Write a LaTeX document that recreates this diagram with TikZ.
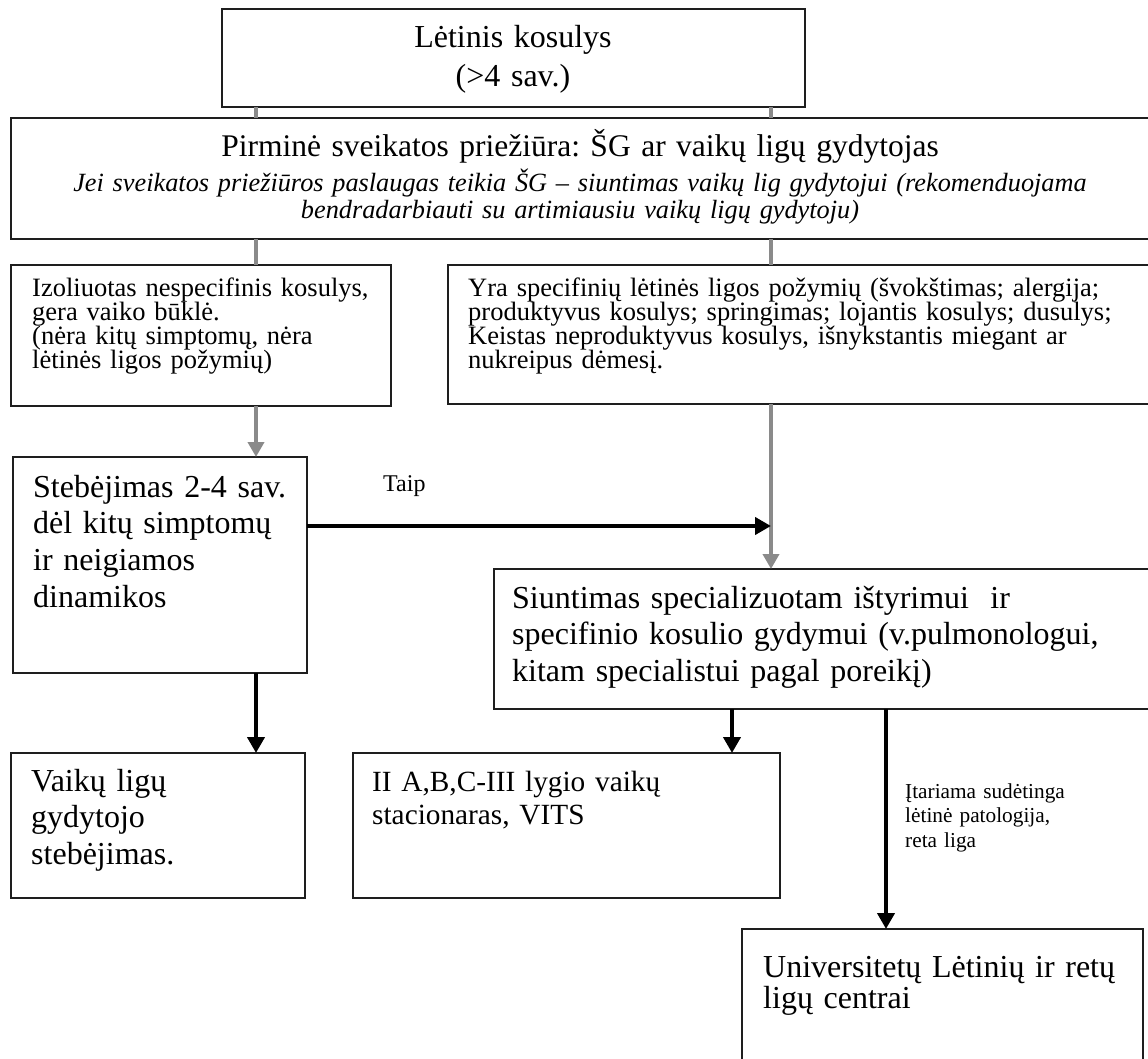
\documentclass[tikz,border=0pt]{standalone}
\usepackage{fontspec}
\setmainfont{Liberation Serif}
\usetikzlibrary{arrows.meta}
\definecolor{linkgray}{RGB}{138,138,138}
\definecolor{boxline}{RGB}{30,30,30}
\frenchspacing
\begin{document}
\begin{tikzpicture}[x=1pt,y=-1pt,
  box/.style={draw=boxline, line width=1.3pt, rectangle, inner sep=0pt,
    outer sep=0pt, anchor=north west},
  txt/.style={inner sep=0pt, anchor=base west, align=left, text width=#1},
  ctxt/.style={inner sep=0pt, anchor=base, align=center, text width=#1},
  big/.style={font=\fontsize{32}{36.7}\selectfont},
  mid/.style={font=\fontsize{26.5}{24.2}\selectfont},
  graylink/.style={draw=linkgray, line width=4pt},
  grayarrow/.style={graylink, -{Triangle[width=16pt,length=15pt]}},
  blackarrow/.style={draw=black, line width=4.5pt, -{Triangle[width=17pt,length=16pt]}}
]
\clip (0,0) rectangle (1148,1059);
\fill[white] (0,0) rectangle (1148,1059);

% columns and rows used by the connectors
\coordinate (cL) at (256,0);
\coordinate (cR) at (771,0);
\coordinate (cA) at (732,0);
\coordinate (cB) at (886,0);
\coordinate (taipY) at (0,526);

% boxes
\node[box, minimum width=583pt, minimum height=98pt]  (b1) at (222,9) {};
\node[box, minimum width=1139pt, minimum height=121pt] (b2) at (11,118) {};
\node[box, minimum width=380pt, minimum height=141pt] (b3) at (11,265) {};
\node[box, minimum width=712pt, minimum height=139pt] (b4) at (448,265) {};
\node[box, minimum width=294pt, minimum height=216pt] (b5) at (13,457) {};
\node[box, minimum width=666pt, minimum height=140pt] (b6) at (494,569) {};
\node[box, minimum width=294pt, minimum height=145pt] (b7) at (11,753) {};
\node[box, minimum width=427pt, minimum height=145pt] (b8) at (353,753) {};
\node[box, minimum width=401pt, minimum height=160pt] (b9) at (742,929) {};

% texts
\node[ctxt=560pt, font=\fontsize{32}{39}\selectfont] (t1) at (513,48)
  {Lėtinis kosulys\\(>4 sav.)};
\node[ctxt=1100pt, font=\fontsize{31.5}{36}\selectfont] (t2) at (580,157)
  {Pirminė sveikatos priežiūra: ŠG ar vaikų ligų gydytojas};
\node[ctxt=1120pt, font=\fontsize{26.3}{26.5}\selectfont\itshape] (t2n) at (580,192)
  {Jei sveikatos priežiūros paslaugas teikia ŠG – siuntimas vaikų lig gydytojui (rekomenduojama\\
   bendradarbiauti su artimiausiu vaikų ligų gydytoju)};
\node[txt=360pt, mid] (t3) at (32,296)
  {Izoliuotas nespecifinis kosulys,\\gera vaiko būklė.\\(nėra kitų simptomų, nėra\\lėtinės ligos požymių)};
\node[txt=680pt, mid] (t4) at (468,296)
  {Yra specifinių lėtinės ligos požymių (švokštimas; alergija;\\produktyvus kosulys; springimas; lojantis kosulys; dusulys;\\Keistas neproduktyvus kosulys, išnykstantis miegant ar\\nukreipus dėmesį.};
\node[txt=280pt, big] (t5) at (33,497)
  {Stebėjimas 2-4 sav.\\dėl kitų simptomų\\ir neigiamos\\dinamikos};
\node[txt=100pt, font=\fontsize{24}{27}\selectfont] (taip) at (383,491) {Taip};
\node[txt=640pt, big] (t6) at (512,608)
  {Siuntimas specializuotam ištyrimui~ ir\\specifinio kosulio gydymui (v.pulmonologui,\\kitam specialistui pagal poreikį)};
\node[txt=270pt, big] (t7) at (31,791)
  {Vaikų ligų\\gydytojo\\stebėjimas.};
\node[txt=400pt, font=\fontsize{29.3}{33.5}\selectfont] (t8) at (372,791)
  {II A,B,C-III lygio vaikų\\stacionaras, VITS};
\node[txt=230pt, font=\fontsize{21.3}{24.5}\selectfont] (lbl) at (905,798)
  {Įtariama sudėtinga\\lėtinė patologija,\\reta liga};
\node[txt=380pt, font=\fontsize{32}{31}\selectfont] (t9) at (763,977)
  {Universitetų Lėtinių ir retų\\ligų centrai};

% gray connectors
\draw[graylink] (cL |- b1.south) -- (cL |- b2.north);
\draw[graylink] (cR |- b1.south) -- (cR |- b2.north);
\draw[graylink] (cL |- b2.south) -- (cL |- b3.north);
\draw[graylink] (cR |- b2.south) -- (cR |- b4.north);
\draw[grayarrow] (cL |- b3.south) -- (cL |- b5.north);
\draw[grayarrow] (cR |- b4.south) -- (cR |- b6.north);

% black connectors
\draw[blackarrow] (b5.east |- taipY) -- (cR |- taipY);
\draw[blackarrow] (cL |- b5.south) -- (cL |- b7.north);
\draw[blackarrow] (cA |- b6.south) -- (cA |- b8.north);
\draw[blackarrow] (cB |- b6.south) -- (cB |- b9.north);
\end{tikzpicture}
\end{document}
